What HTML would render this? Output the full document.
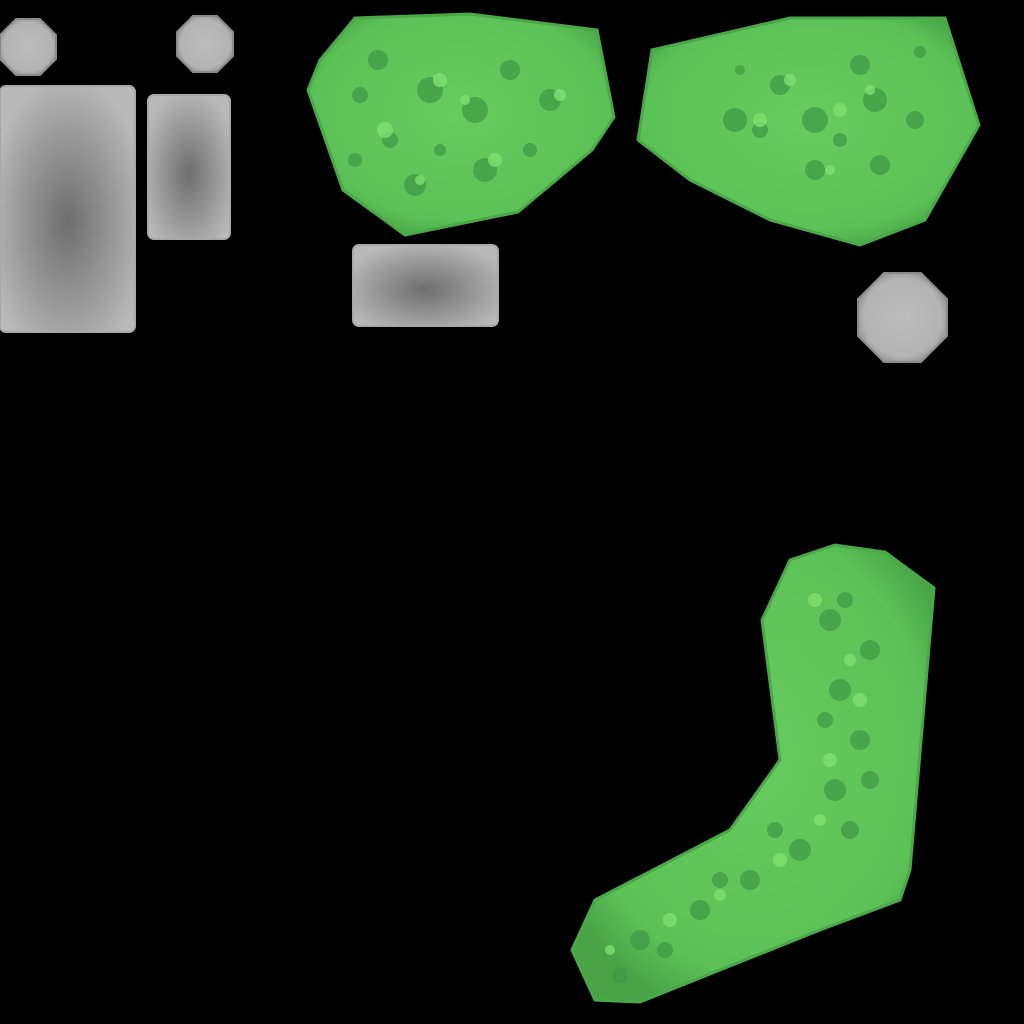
<!DOCTYPE html>
<html><head><meta charset="utf-8"><style>
html,body{margin:0;padding:0;background:#000;width:1024px;height:1024px;overflow:hidden}
svg{display:block}
</style></head><body>
<svg width="1024" height="1024" viewBox="0 0 1024 1024">
<defs>
<radialGradient id="gray" cx="50%" cy="55%" r="60%">
<stop offset="0" stop-color="#6e6e6e"/><stop offset="0.6" stop-color="#9a9a9a"/><stop offset="1" stop-color="#b9b9b9"/>
</radialGradient>
<radialGradient id="oct" cx="50%" cy="50%" r="55%">
<stop offset="0" stop-color="#bdbdbd"/><stop offset="0.8" stop-color="#b3b3b3"/><stop offset="1" stop-color="#8e8e8e"/>
</radialGradient>
<radialGradient id="green" cx="50%" cy="45%" r="60%">
<stop offset="0" stop-color="#66cc5e"/><stop offset="0.8" stop-color="#5cc257"/><stop offset="1" stop-color="#48a446"/>
</radialGradient>
</defs>
<g>
<polygon points="16,19 40,19 56,35 56,59 40,75 16,75 0,59 0,35" fill="url(#oct)" stroke="#8a8a8a" stroke-width="2"/>
</g>
<g>
<polygon points="193,16 217,16 233,32 233,56 217,72 193,72 177,56 177,32" fill="url(#oct)" stroke="#8a8a8a" stroke-width="2"/>
</g>
<polygon points="884,273 921,273 947,299 947,336 921,362 884,362 858,336 858,299" fill="url(#oct)" stroke="#8a8a8a" stroke-width="2"/>
<rect x="0" y="86" width="135" height="246" rx="6" fill="url(#gray)" stroke="#a8a8a8" stroke-width="2"/>
<rect x="148" y="95" width="82" height="144" rx="6" fill="url(#gray)" stroke="#a8a8a8" stroke-width="2"/>
<rect x="353" y="245" width="145" height="81" rx="6" fill="url(#gray)" stroke="#a8a8a8" stroke-width="2"/>
<g>
<polygon points="355,18 470,14 597,30 614,117 592,150 518,212 405,235 343,190 308,90 320,60" fill="url(#green)" stroke="#4aa848" stroke-width="3"/>
<g fill="#3f9a45" opacity="0.75">
<circle cx="378" cy="60" r="10"/><circle cx="430" cy="90" r="13"/><circle cx="475" cy="110" r="13"/><circle cx="550" cy="100" r="11"/><circle cx="415" cy="185" r="11"/><circle cx="485" cy="170" r="12"/><circle cx="510" cy="70" r="10"/><circle cx="360" cy="95" r="8"/><circle cx="355" cy="160" r="7"/><circle cx="390" cy="140" r="8"/><circle cx="530" cy="150" r="7"/><circle cx="440" cy="150" r="6"/>
</g>
<g fill="#7fe06f" opacity="0.8">
<circle cx="440" cy="80" r="7"/><circle cx="385" cy="130" r="8"/><circle cx="495" cy="160" r="7"/><circle cx="560" cy="95" r="6"/><circle cx="465" cy="100" r="5"/><circle cx="420" cy="180" r="5"/>
</g>
</g>
<g>
<polygon points="652,50 790,18 945,18 979,125 925,220 860,245 770,220 690,180 638,140" fill="url(#green)" stroke="#4aa848" stroke-width="3"/>
<g fill="#3f9a45" opacity="0.75">
<circle cx="780" cy="85" r="10"/><circle cx="860" cy="65" r="10"/><circle cx="735" cy="120" r="12"/><circle cx="815" cy="120" r="13"/><circle cx="875" cy="100" r="12"/><circle cx="915" cy="120" r="9"/><circle cx="815" cy="170" r="10"/><circle cx="880" cy="165" r="10"/><circle cx="920" cy="52" r="6"/><circle cx="760" cy="130" r="8"/><circle cx="840" cy="140" r="7"/><circle cx="740" cy="70" r="5"/>
</g>
<g fill="#7fe06f" opacity="0.8">
<circle cx="760" cy="120" r="7"/><circle cx="840" cy="110" r="7"/><circle cx="790" cy="80" r="6"/><circle cx="870" cy="90" r="5"/><circle cx="830" cy="170" r="5"/>
</g>
</g>
<g>
<polygon points="790,560 835,545 885,552 934,588 910,870 900,900 820,930 640,1002 595,1000 572,950 595,900 730,830 780,760 762,620" fill="url(#green)" stroke="#4aa848" stroke-width="3"/>
<g fill="#3f9a45" opacity="0.75">
<circle cx="830" cy="620" r="11"/><circle cx="870" cy="650" r="10"/><circle cx="840" cy="690" r="11"/><circle cx="860" cy="740" r="10"/><circle cx="835" cy="790" r="11"/><circle cx="800" cy="850" r="11"/><circle cx="750" cy="880" r="10"/><circle cx="700" cy="910" r="10"/><circle cx="640" cy="940" r="10"/><circle cx="620" cy="975" r="8"/><circle cx="850" cy="830" r="9"/><circle cx="845" cy="600" r="8"/><circle cx="825" cy="720" r="8"/><circle cx="870" cy="780" r="9"/><circle cx="775" cy="830" r="8"/><circle cx="720" cy="880" r="8"/><circle cx="665" cy="950" r="8"/>
</g>
<g fill="#7fe06f" opacity="0.8">
<circle cx="815" cy="600" r="7"/><circle cx="860" cy="700" r="7"/><circle cx="830" cy="760" r="7"/><circle cx="780" cy="860" r="7"/><circle cx="670" cy="920" r="7"/><circle cx="720" cy="895" r="6"/><circle cx="850" cy="660" r="6"/><circle cx="820" cy="820" r="6"/><circle cx="610" cy="950" r="5"/>
</g>
</g>
</svg>
</body></html>
